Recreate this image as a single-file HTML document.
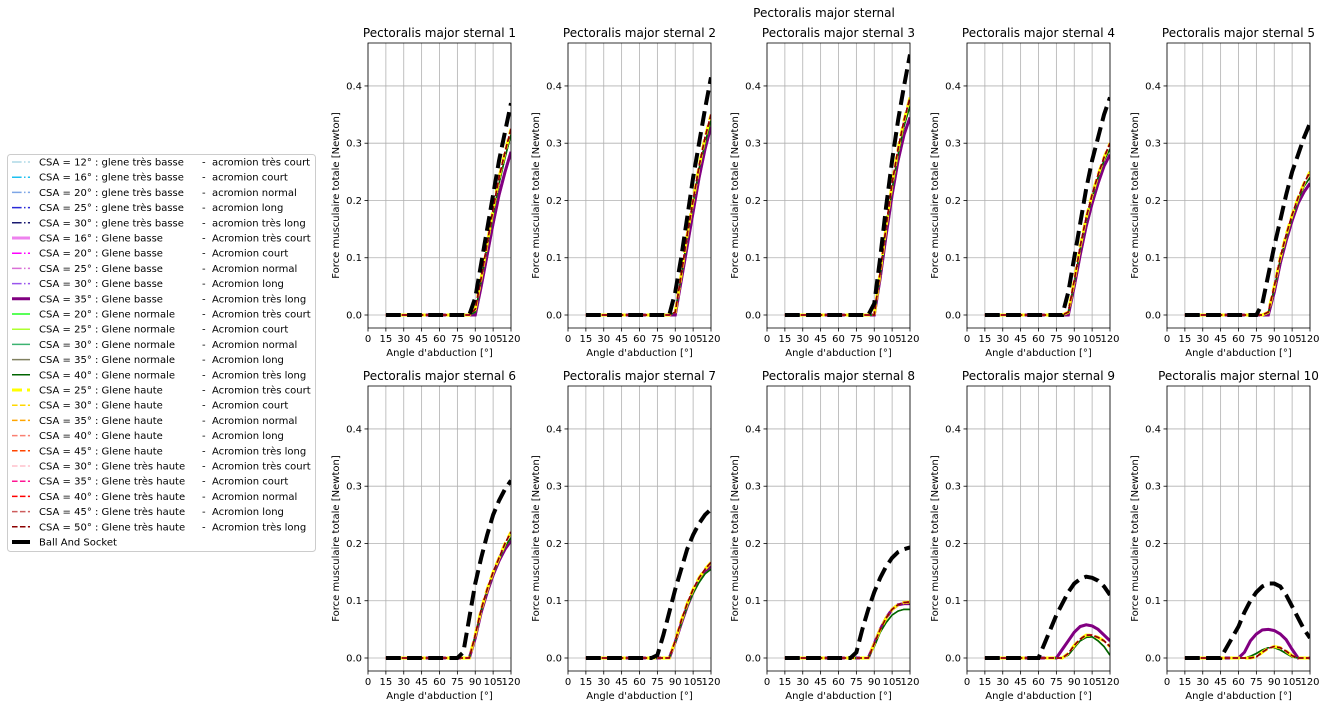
<!DOCTYPE html>
<html><head><meta charset="utf-8">
<style>
body{margin:0;background:#fff;}
svg{display:block;font-family:"DejaVu Sans","Liberation Sans",sans-serif;}
</style></head>
<body>
<svg id="fig" width="1325" height="709" viewBox="0 0 1325 709" xmlns="http://www.w3.org/2000/svg">
<rect width="1325" height="709" fill="#fff"/>
<text x="824" y="17" font-size="12" text-anchor="middle">Pectoralis major sternal</text>
<g id="legend"></g>
<g id="plots"></g>
</svg>
<script>
const angles=[15,30,45,60,65,70,75,80,85,90,95,100,105,110,115,120];
const xTicks=[0,15,30,45,60,75,90,105,120];
const yTicks=[0.0,0.1,0.2,0.3,0.4];
const yTickLabels=["0.0","0.1","0.2","0.3","0.4"];
const panelTitles=["Pectoralis major sternal 1","Pectoralis major sternal 2","Pectoralis major sternal 3","Pectoralis major sternal 4","Pectoralis major sternal 5","Pectoralis major sternal 6","Pectoralis major sternal 7","Pectoralis major sternal 8","Pectoralis major sternal 9","Pectoralis major sternal 10"];
const basValues=[
[0,0,0,0,0,0,0,0,0,.03,.09,.15,.21,.27,.32,.37],
[0,0,0,0,0,0,0,0,0,.04,.1,.17,.24,.3,.36,.415],
[0,0,0,0,0,0,0,0,0,.02,.1,.19,.27,.34,.4,.455],
[0,0,0,0,0,0,0,0,.04,.1,.16,.22,.27,.31,.35,.38],
[0,0,0,0,0,0,0,.02,.07,.12,.165,.21,.25,.28,.31,.335],
[0,0,0,0,0,0,0,.01,.07,.13,.175,.215,.25,.275,.295,.31],
[0,0,0,0,0,0,.005,.04,.08,.12,.155,.19,.215,.235,.25,.26],
[0,0,0,0,0,0,.01,.05,.085,.115,.14,.16,.175,.185,.19,.193],
[0,0,0,0,.025,.05,.075,.095,.115,.13,.138,.142,.14,.135,.125,.11],
[0,0,0,.055,.08,.1,.115,.125,.13,.13,.125,.11,.09,.07,.05,.035]];
const hiValues=[
[0,0,0,0,0,0,0,0,0,.01,.065,.125,.185,.24,.285,.325],
[0,0,0,0,0,0,0,0,0,.005,.07,.14,.2,.26,.31,.35],
[0,0,0,0,0,0,0,0,0,0,.075,.155,.23,.29,.34,.38],
[0,0,0,0,0,0,0,0,.005,.06,.12,.17,.21,.245,.275,.3],
[0,0,0,0,0,0,0,0,.005,.05,.1,.14,.175,.205,.23,.25],
[0,0,0,0,0,0,0,0,0,.04,.085,.12,.15,.175,.2,.22],
[0,0,0,0,0,0,0,0,0,.03,.065,.095,.12,.14,.155,.167],
[0,0,0,0,0,0,0,0,0,.025,.05,.07,.085,.093,.097,.098],
[0,0,0,0,0,0,0,0,.008,.022,.033,.04,.04,.036,.03,.02],
[0,0,0,0,0,0,.002,.01,.017,.02,.018,.012,.004,0,0,0]];
const loValues=[
[0,0,0,0,0,0,0,0,0,0,.05,.105,.16,.21,.25,.285],
[0,0,0,0,0,0,0,0,0,0,.06,.12,.18,.24,.29,.33],
[0,0,0,0,0,0,0,0,0,0,.065,.14,.21,.27,.315,.345],
[0,0,0,0,0,0,0,0,0,.05,.105,.155,.195,.23,.26,.28],
[0,0,0,0,0,0,0,0,0,.04,.09,.13,.165,.195,.215,.23],
[0,0,0,0,0,0,0,0,0,.035,.08,.115,.145,.17,.19,.205],
[0,0,0,0,0,0,0,0,0,.028,.06,.09,.115,.135,.15,.16],
[0,0,0,0,0,0,0,0,0,.025,.05,.07,.085,.093,.095,.095],
[0,0,0,0,0,0,0,.015,.03,.045,.055,.058,.056,.05,.04,.03],
[0,0,0,0,.01,.03,.042,.049,.05,.048,.042,.032,.015,0,0,0]];
const grValues=[
[0,0,0,0,0,0,0,0,0,.005,.06,.12,.175,.23,.275,.315],
[0,0,0,0,0,0,0,0,0,.005,.065,.135,.195,.255,.3,.34],
[0,0,0,0,0,0,0,0,0,0,.07,.15,.22,.28,.33,.365],
[0,0,0,0,0,0,0,0,.003,.055,.115,.165,.205,.24,.27,.29],
[0,0,0,0,0,0,0,0,.003,.045,.095,.135,.17,.2,.225,.24],
[0,0,0,0,0,0,0,0,0,.038,.082,.118,.148,.173,.195,.21],
[0,0,0,0,0,0,0,0,0,.027,.06,.09,.113,.132,.147,.155],
[0,0,0,0,0,0,0,0,0,.02,.045,.062,.075,.082,.085,.085],
[0,0,0,0,0,0,0,0,.005,.018,.03,.036,.037,.03,.02,.005],
[0,0,0,0,0,.003,.008,.014,.018,.018,.014,.008,.002,0,0,0]];
const seriesLabels=["CSA = 12° : glene très basse","CSA = 16° : glene très basse","CSA = 20° : glene très basse","CSA = 25° : glene très basse","CSA = 30° : glene très basse","CSA = 16° : Glene basse","CSA = 20° : Glene basse","CSA = 25° : Glene basse","CSA = 30° : Glene basse","CSA = 35° : Glene basse","CSA = 20° : Glene normale","CSA = 25° : Glene normale","CSA = 30° : Glene normale","CSA = 35° : Glene normale","CSA = 40° : Glene normale","CSA = 25° : Glene haute","CSA = 30° : Glene haute","CSA = 35° : Glene haute","CSA = 40° : Glene haute","CSA = 45° : Glene haute","CSA = 30° : Glene très haute","CSA = 35° : Glene très haute","CSA = 40° : Glene très haute","CSA = 45° : Glene très haute","CSA = 50° : Glene très haute","Ball And Socket"];
const seriesSuffix=["-  acromion très court","-  acromion court","-  acromion normal","-  acromion long","-  acromion très long","-  Acromion très court","-  Acromion court","-  Acromion normal","-  Acromion long","-  Acromion très long","-  Acromion très court","-  Acromion court","-  Acromion normal","-  Acromion long","-  Acromion très long","-  Acromion très court","-  Acromion court","-  Acromion normal","-  Acromion long","-  Acromion très long","-  Acromion très court","-  Acromion court","-  Acromion normal","-  Acromion long","-  Acromion très long",""];
const seriesGroup=["lo","lo","lo","lo","lo","lo","lo","lo","lo","lo","gr","gr","gr","gr","gr","hi","hi","hi","hi","hi","hi","hi","hi","hi","hi","bas"];
const colors=["#add8e6","#1ec0f0","#7ea6e6","#2a2ad8","#191970","#ee82ee","#ff00ff","#da70d6","#9a55ee","#800080","#22ff22","#adff2f","#3cb371","#808060","#006400","#ffff00","#ffd700","#ffa500","#fa8072","#ff4500","#ffc0cb","#ff1493","#ff0000","#cd5c5c","#8b0000","#000000"];
const widths=[1.5,1.5,1.5,1.5,1.5,3,1.5,1.5,1.5,3,1.5,1.5,1.5,1.5,1.5,3,1.5,1.5,1.5,1.5,1.5,1.5,1.5,1.5,1.5,4];
const DD="9.6,2.4,1.5,2.4", DS="5.55,2.4";
const dashes=[DD,DD,DD,DD,DD,"",DD,DD,DD,"","","","","","","10,5",DS,DS,DS,DS,DS,DS,DS,DS,DS,"14.8,6.4"];
const NS="http://www.w3.org/2000/svg";
function mk(tag,attrs,parent){const e=document.createElementNS(NS,tag);for(const k in attrs)e.setAttribute(k,attrs[k]);parent.appendChild(e);return e;}
const colLeft=[368,568,767,967,1167];
const W=143, rowTop=[43,386], H=285;
const yMin=-0.0227,yMax=0.475;
const groups={bas:basValues,hi:hiValues,lo:loValues,gr:grValues};
const plots=document.getElementById('plots');
for(let p=0;p<10;p++){
  const x0=colLeft[p%5], y0=rowTop[Math.floor(p/5)];
  const sx=v=>x0+v/120*W;
  const sy=v=>y0+(yMax-v)/(yMax-yMin)*H;
  const g=mk('g',{},plots);
  
  
  const t=mk('text',{x:x0+W/2,y:y0-6,'font-size':12,'text-anchor':'middle'},g);
  t.textContent=panelTitles[p];
  
  
  xTicks.forEach(v=>{
    const l=mk('line',{x1:sx(v),x2:sx(v),y1:y0,y2:y0+H,stroke:'#b0b0b0','stroke-width':0.8},g);
    
    
    mk('line',{x1:sx(v),x2:sx(v),y1:y0+H,y2:y0+H+3.5,stroke:'#000','stroke-width':0.8},g);
    const tl=mk('text',{x:sx(v),y:y0+H+14,'font-size':10,'text-anchor':'middle'},g);
    tl.textContent=v;
    
    
  });
  yTicks.forEach((v,i)=>{
    const l=mk('line',{x1:x0,x2:x0+W,y1:sy(v),y2:sy(v),stroke:'#b0b0b0','stroke-width':0.8},g);
    
    
    mk('line',{x1:x0-3.5,x2:x0,y1:sy(v),y2:sy(v),stroke:'#000','stroke-width':0.8},g);
    const tl=mk('text',{x:x0-6,y:sy(v)+3.5,'font-size':10,'text-anchor':'end'},g);
    tl.textContent=yTickLabels[i];
    
    
  });
  const clipId='c'+p;
  const cp=mk('clipPath',{id:clipId},g);
  mk('rect',{x:x0,y:y0,width:W,height:H},cp);
  const sg=mk('g',{'clip-path':'url(#'+clipId+')'},g);
  for(let s=0;s<seriesLabels.length;s++){
    const vals=groups[seriesGroup[s]][p];
    const d=angles.map((a,i)=>(i?'L':'M')+sx(a).toFixed(2)+','+sy(vals[i]).toFixed(2)).join('');
    const path=mk('path',{d:d,fill:'none',stroke:colors[s],'stroke-width':widths[s]},sg);
    if(dashes[s])path.setAttribute('stroke-dasharray',dashes[s]);
    
    
  }
  const fr=mk('rect',{x:x0,y:y0,width:W,height:H,fill:'none',stroke:'#000','stroke-width':0.8},g);
  
  
  const xl=mk('text',{x:x0+W/2,y:y0+H+28,'font-size':10,'text-anchor':'middle'},g);
  xl.textContent="Angle d'abduction [°]";
  
  
  const yl=mk('text',{x:0,y:0,'font-size':10,'text-anchor':'middle',transform:'translate('+(x0-29)+','+(y0+H/2+10)+') rotate(-90)'},g);
  yl.textContent="Force musculaire totale [Newton]";
  
  
}
const lg=document.getElementById('legend');
mk('rect',{x:7.5,y:154.5,width:308,height:397,rx:3,fill:'#fff',stroke:'#cccccc','stroke-width':1},lg);
for(let s=0;s<seriesLabels.length;s++){
  const y=162+s*15.2;
  const e=mk('g',{},lg);
  
  
  const l=mk('line',{x1:12,x2:30,y1:y,y2:y,stroke:colors[s],'stroke-width':widths[s]},e);
  if(dashes[s] && s!=25)l.setAttribute('stroke-dasharray',dashes[s]);
  const t=mk('text',{x:39,y:y+3.5,'font-size':10},e);
  t.textContent=seriesLabels[s];
  if(seriesSuffix[s]){
    const t2=mk('text',{x:202,y:y+3.5,'font-size':10},e);
    t2.textContent=seriesSuffix[s].replace('-  ','-\u00a0\u00a0');
  }
}
</script>
</body></html>
